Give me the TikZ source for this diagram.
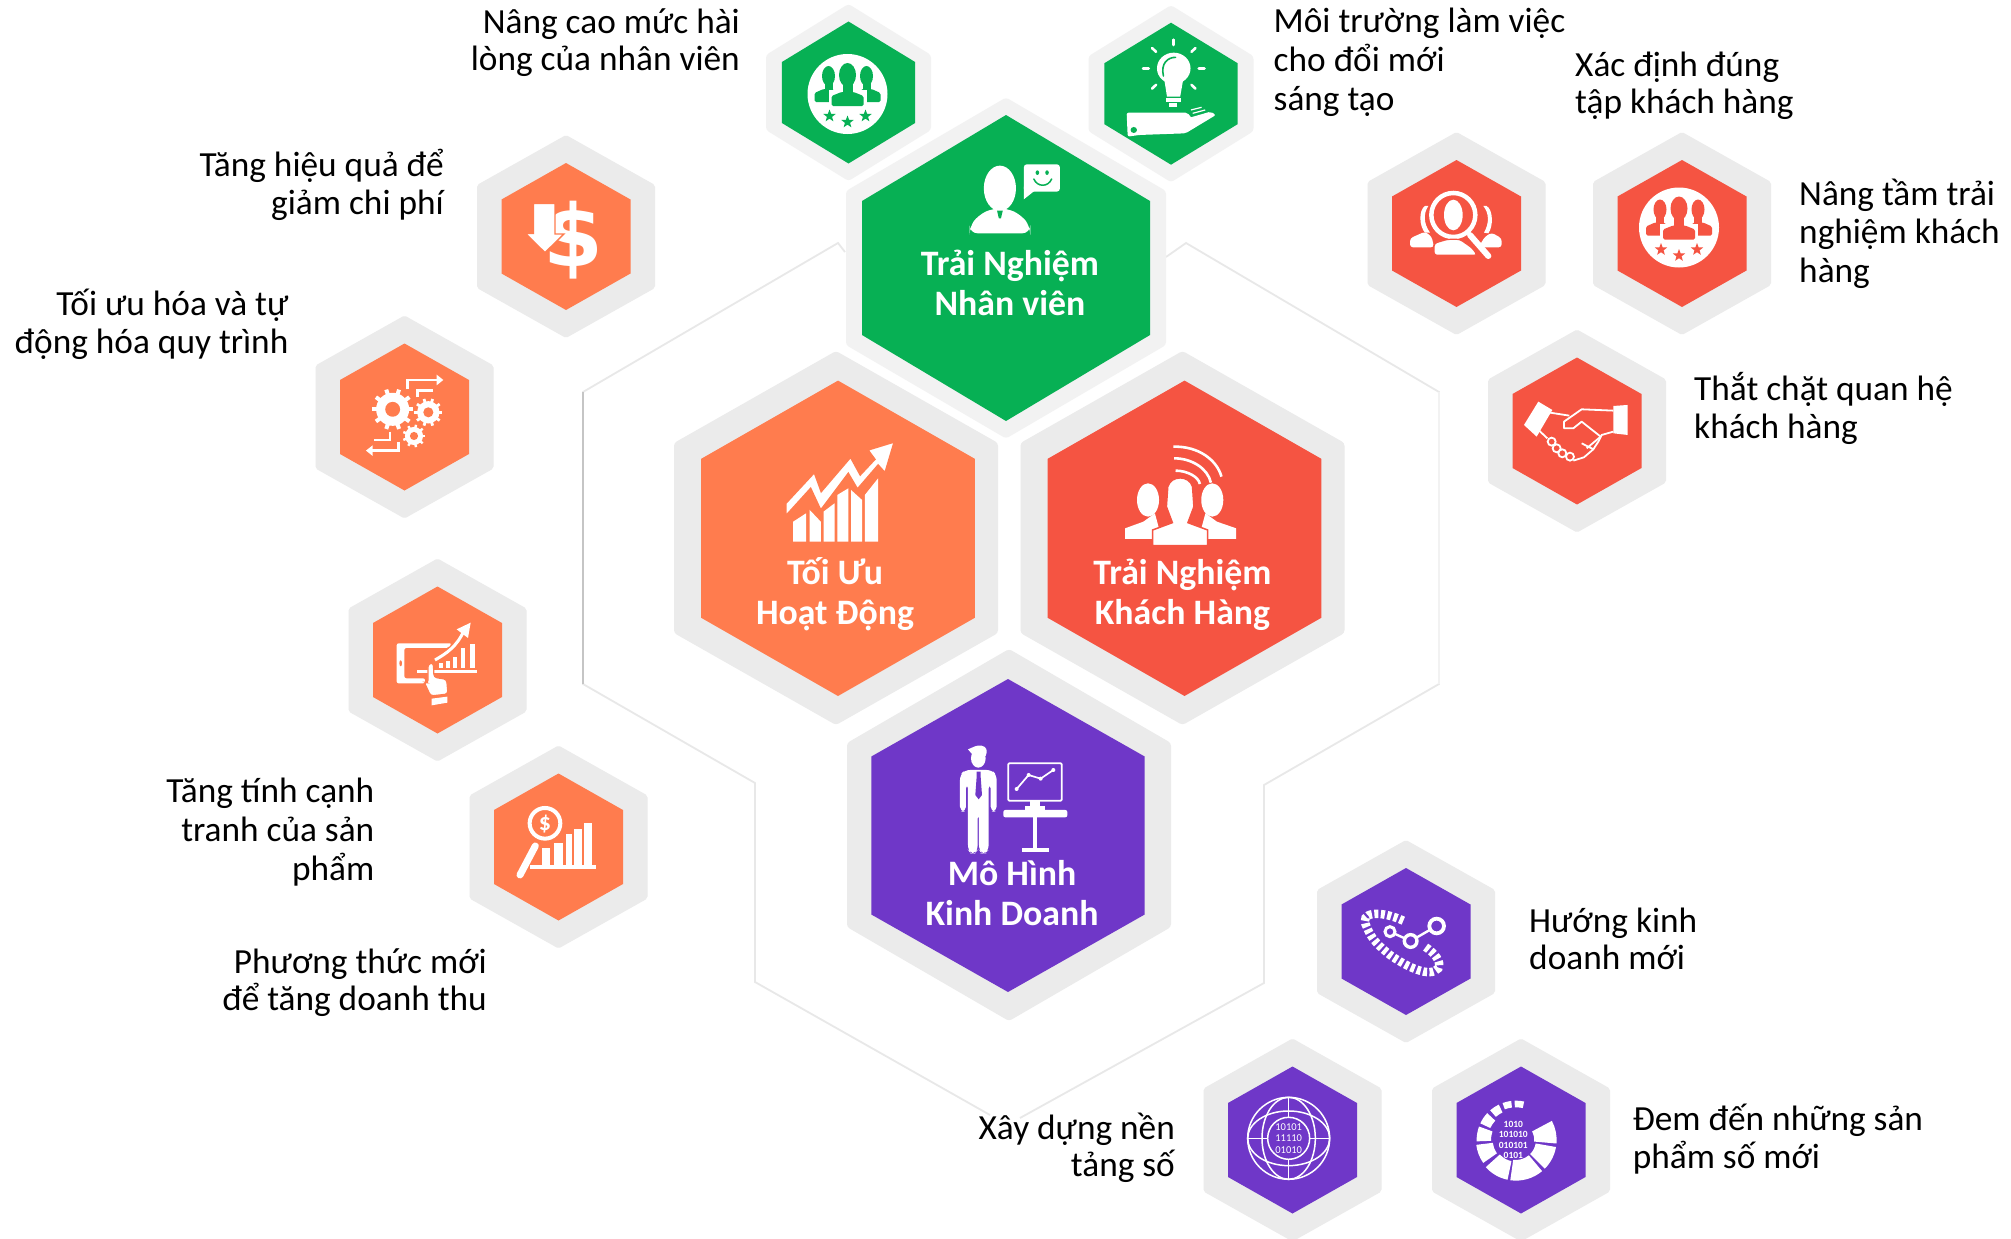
\documentclass[tikz,border=0pt]{standalone}
\usepackage{fontspec}
\setmainfont{Carlito}
\newfontfamily\heavyfont{DejaVu Sans}
\usetikzlibrary{calc}
\definecolor{cgreen}{HTML}{07B054}
\definecolor{corange}{HTML}{FF7C4E}
\definecolor{cred}{HTML}{F55442}
\definecolor{cpurple}{HTML}{6F37C8}
\definecolor{ringa}{HTML}{F2F2F2}
\definecolor{ringb}{HTML}{EBEBEB}
\definecolor{bgline}{HTML}{E8E8E8}
\tikzset{
  lab/.style={font=\fontsize{35.3}{37.5}\selectfont,inner sep=0pt,text=black},
  labth/.style={font=\fontsize{35.3}{38.6}\selectfont},
  labl/.style={lab,anchor=west,align=left},
  labr/.style={lab,anchor=east,align=right},
  ttl/.style={font=\bfseries\fontsize{35.8}{40}\selectfont,inner sep=0pt,text=white,align=center},
  bgl/.style={draw=bgline,line width=1.8pt,line join=miter},
  zone/.style={shift={(750,0)},x=.357pt,y=-.3333pt},
  ztwo/.style={shift={(650,340)},x=.459pt,y=-.3333pt},
  zthree/.style={shift={(840,650)},x=.3333pt,y=-.3333pt},
  zfour/.style={shift={(310,130)},x=.3333pt,y=-.3333pt},
  zfive/.style={shift={(340,550)},x=.3333pt,y=-.3333pt},
  zsix/.style={shift={(1360,120)},x=.3333pt,y=-.3333pt},
  zseven/.style={shift={(1190,830)},x=.3333pt,y=-.3333pt}
}
% hexagon outline: cx cy halfwidth halfheight shoulder style
\newcommand\hexa[6]{\path[#6] (#1,#2-#4) -- (#1+#3,#2-#5) -- (#1+#3,#2+#5) -- (#1,#2+#4) -- (#1-#3,#2+#5) -- (#1-#3,#2-#5) -- cycle;}
% small hexagon with grey ring
\newcommand\smallhex[4]{\coordinate (#1) at (#2,#3);
  \hexa{#2}{#3}{89}{101.5}{51.5}{fill=ringb,rounded corners=2pt}
  \hexa{#2}{#3}{64.5}{73.5}{37}{fill=#4}}
\newcommand\mystar[4]{\fill[#4] (#1,#2) +(-90:#3) -- +(-54:{.42*#3}) -- +(-18:#3) -- +(18:{.42*#3}) -- +(54:#3) -- +(90:{.42*#3}) -- +(126:#3) -- +(162:{.42*#3}) -- +(198:#3) -- +(234:{.42*#3}) -- cycle;}
% three people and stars in a white disc, centred on the disc
\newcommand\peoplestars[3]{\begin{scope}[shift={(#1,#2)}]
  \fill[white] (0,0) circle (40);
  \fill[#3] (-19,-18) ellipse [x radius=6.5,y radius=10];
  \fill[#3] (19,-18) ellipse [x radius=6.5,y radius=10];
  \fill[#3] (-23,-12) rectangle (-15,0);
  \fill[#3] (15,-12) rectangle (23,0);
  \fill[#3,rounded corners=1.5pt] (-33,8) -- (-33,-1) -- (-24,-5) -- (-14,-5) -- (-8,8) -- cycle;
  \fill[#3,rounded corners=1.5pt] (33,8) -- (33,-1) -- (24,-5) -- (14,-5) -- (8,8) -- cycle;
  \fill[white] (-11.5,-34) rectangle (11.5,-2);
  \fill[white] (-19,-4) rectangle (19,15);
  \fill[#3] (0,-19) ellipse [x radius=8.5,y radius=12];
  \fill[#3] (-5,-12) rectangle (5,2);
  \fill[#3,rounded corners=1.5pt] (-16,12) -- (-16,2) -- (-6,-2) -- (6,-2) -- (16,2) -- (16,12) -- cycle;
  \mystar{-18}{22}{6.5}{#3}\mystar{0}{28}{6.5}{#3}\mystar{18}{22}{6.5}{#3}
\end{scope}}
\newcommand\gearicon[6]{\foreach \gi in {1,...,#5}{\draw[white,line width=#6pt] (#1,#2) -- +({\gi*360/#5}:#3);}
  \fill[white] (#1,#2) circle ({.8*#3}); \fill[corange] (#1,#2) circle ({.36*#3});}
\newcommand\segm[4]{\fill[white] (#1:#4) arc[start angle=#1,end angle=#2,radius=#4] -- (#2:#3) arc[start angle=#2,end angle=#1,radius=#3] -- cycle;}
\begin{document}
\begin{tikzpicture}[x=1pt,y=-1pt]
\useasboundingbox (0,0) rectangle (2011,1239);
\fill[white] (0,0) rectangle (2011,1239);
% background outline
\coordinate (la) at (845,252); \coordinate (lb) at (838,243); \coordinate (lc) at (583,392);
\coordinate (ld) at (583,684); \coordinate (le) at (755,783); \coordinate (lf) at (755,982); \coordinate (lg) at (990,1115);
\coordinate (ra) at (1166,257); \coordinate (rb) at (1186,243); \coordinate (rc) at (1439,392);
\coordinate (rd) at (1439,684); \coordinate (re) at (1264,785); \coordinate (rf) at (1264,983); \coordinate (rg) at (1020,1118);
\draw[bgl] (la) -- (lb) -- (lc) -- (ld) -- (le) -- (lf) -- (lg);
\draw[bgl] (ra) -- (rb) -- (rc) -- (rd) -- (re) -- (rf) -- (rg);
\draw[draw=bgline!85!black,line width=2pt] (lc) -- (ld);
\draw[draw=ringa,line width=2.5pt] (rc) -- (rd);
% ---- large hexagons
\hexa{836}{538}{162}{187}{95}{fill=ringb,rounded corners=3pt}
\hexa{838}{538.3}{136.8}{157.7}{79.5}{fill=corange}
\hexa{1182.5}{538}{162}{187}{95}{fill=ringb,rounded corners=3pt}
\hexa{1184.5}{538.3}{136.8}{157.7}{79.5}{fill=cred}
\hexa{1009}{835}{162}{186}{92}{fill=ringb,rounded corners=3pt}
\hexa{1008}{835.5}{136.7}{156.5}{79}{fill=cpurple}
% ---- green small
\coordinate (gone) at (848.5,92.5); \coordinate (gtwo) at (1171,93.7);
\hexa{848.5}{92.5}{82.5}{88.5}{37.5}{fill=ringa,rounded corners=3pt}
\hexa{848.5}{92.5}{66.6}{71}{30.5}{fill=cgreen}
\hexa{1171}{93.7}{82.5}{88.5}{37.5}{fill=ringa,rounded corners=3pt}
\hexa{1171}{93.7}{66.6}{71}{30.5}{fill=cgreen}
% ---- green large
\hexa{1006}{268}{160}{170.5}{77}{fill=ringa,rounded corners=3pt}
\hexa{1006}{268}{144}{153}{67}{fill=cgreen}
% ---- small hexagons
\smallhex{hdollar}{566}{236.5}{corange}
\smallhex{hgears}{404.5}{417}{corange}
\smallhex{htablet}{437.5}{660}{corange}
\smallhex{hmag}{558.5}{847}{corange}
\smallhex{hsearch}{1456.5}{233.5}{cred}
\smallhex{hstars}{1682}{233.5}{cred}
\smallhex{hshake}{1577}{431}{cred}
\smallhex{hroute}{1406}{941.5}{cpurple}
\smallhex{hglobe}{1292.5}{1140}{cpurple}
\smallhex{hdata}{1521}{1140}{cpurple}
% ---- people with stars
\peoplestars{847.5}{94}{cgreen}
\peoplestars{1679}{227.5}{cred}
% ---- bulb and hand
\begin{scope}[zone]
  \foreach \ra in {-90,-135,-45,180,0,135,45}{\draw[white,line width=2.6pt,line cap=round,shift={(1187,205)}] (\ra:70) -- (\ra:86);}
  \fill[white] (1187,205) ellipse [x radius=47,y radius=47];
  \fill[white] (1160,235) -- (1214,235) -- (1205,290) -- (1168,290) -- cycle;
  \fill[white] (1165,294) rectangle (1207,306);
  \fill[white] (1175,310) rectangle (1197,320);
  \draw[cgreen,line width=1.6pt,line cap=round] (1158,228) .. controls (1150,190) and (1170,172) .. (1192,172);
  \fill[white,rounded corners=2pt] (1055,338) -- (1225,338) -- (1240,358) -- (1170,372) -- (1290,335) -- (1305,345) -- (1220,400) -- (1090,405) -- (1058,410) -- cycle;
  \fill[cgreen] (1075,390) circle (9);
  \draw[white,line width=1.2pt] (1235,330) -- (1265,322) (1240,340) -- (1275,330);
  % person and speech bubble
  \fill[white] (700,565) ellipse [x radius=45,y radius=68];
  \fill[white,rounded corners=8pt] (615,700) -- (615,680) -- (640,645) -- (680,625) -- (720,625) -- (760,645) -- (785,680) -- (785,700) -- cycle;
  \fill[cgreen] (692,632) -- (708,632) -- (703,655) -- (697,655) -- cycle;
  \fill[white,rounded corners=3pt] (767,493) rectangle (868,575);
  \fill[white] (767,560) -- (767,598) -- (800,570) -- cycle;
  \fill[cgreen] (805,518) ellipse [x radius=5,y radius=7];
  \fill[cgreen] (832,518) ellipse [x radius=5,y radius=7];
  \draw[cgreen,line width=1.5pt,line cap=round] (795,537) .. controls (805,562) and (835,562) .. (845,537);
\end{scope}
% ---- chart and arrow
\begin{scope}[ztwo]
  \fill[white] (312,605) -- (312,545) -- (340,520) -- (340,605) -- cycle;
  \fill[white] (348,605) -- (348,510) -- (372,545) -- (372,605) -- cycle;
  \fill[white] (378,605) -- (378,515) -- (402,490) -- (402,605) -- cycle;
  \fill[white] (408,605) -- (408,465) -- (432,445) -- (432,605) -- cycle;
  \fill[white] (438,605) -- (438,450) -- (462,480) -- (462,605) -- cycle;
  \fill[white] (468,605) -- (468,465) -- (497,415) -- (497,605) -- cycle;
  \path[fill=white,draw=corange,line width=1.5pt,line join=miter] (296,490) -- (358,398) -- (373,455) -- (437,352) -- (458,405) -- (490,358) -- (475,330) -- (532,306) -- (512,398) -- (497,375) -- (452,447) -- (432,400) -- (372,510) -- (350,445) -- (296,527) -- cycle;
  % people and signal
  \fill[white] (1085,480) ellipse [x radius=24,y radius=50];
  \fill[white] (1225,480) ellipse [x radius=24,y radius=50];
  \fill[white] (1035,597) -- (1035,565) -- (1075,545) -- (1100,520) -- (1115,597) -- cycle;
  \fill[white] (1277,597) -- (1277,565) -- (1235,545) -- (1210,520) -- (1195,597) -- cycle;
  \fill[white,draw=cred,line width=1.5pt] (1095,617) -- (1095,570) -- (1138,548) -- (1125,500) -- (1128,440) .. controls (1135,405) and (1175,405) .. (1182,440) -- (1185,500) -- (1172,548) -- (1215,570) -- (1215,617) -- cycle;
  \draw[white,line width=2.6pt] (1140,320) .. controls (1195,318) and (1235,360) .. (1245,410);
  \draw[white,line width=2.6pt] (1142,355) .. controls (1180,355) and (1215,385) .. (1222,428);
  \draw[white,line width=2.6pt] (1145,392) .. controls (1170,392) and (1195,410) .. (1198,432);
\end{scope}
% ---- man and board
\begin{scope}[zthree]
  \fill[white] (415,325) ellipse [x radius=22,y radius=28];
  \fill[white] (384,298) .. controls (400,292) and (410,284) .. (425,287) .. controls (440,290) and (444,302) .. (437,318) -- (396,312) -- cycle;
  \fill[white,rounded corners=5pt] (360,485) -- (360,375) -- (375,360) -- (455,360) -- (470,375) -- (470,485) -- (452,485) -- (452,400) -- (446,400) -- (446,480) -- (446,600) -- (435,610) -- (425,610) -- (417,600) -- (417,490) -- (413,490) -- (413,600) -- (405,610) -- (392,610) -- (384,600) -- (384,400) -- (378,400) -- (378,485) -- cycle;
  \fill[cpurple] (410,365) -- (422,365) -- (422,380) -- (426,435) -- (416,448) -- (406,435) -- (410,380) -- cycle;
  \draw[white,line width=1.7pt,rounded corners=1pt] (505,340) rectangle (665,452);
  \draw[white,line width=1.7pt] (530,417) -- (566,375) -- (602,386) -- (640,360);
  \fill[white] (530,417) circle (6) (566,375) circle (6) (602,386) circle (6) (640,360) circle (6);
  \fill[white] (570,452) rectangle (600,470);
  \fill[white] (555,468) rectangle (615,482);
  \fill[white,rounded corners=2pt] (490,480) rectangle (682,502);
  \fill[white] (578,502) rectangle (592,597);
  \fill[white] (545,595) rectangle (628,606);
\end{scope}
% ---- dollar and arrow; gears
\begin{scope}[zfour]
  \node[font=\heavyfont\bfseries\fontsize{86}{86}\selectfont,text=white,inner sep=0pt] (dollarsign) at (790,330) {\$};
  \path[fill=white,draw=corange,line width=1.4pt,line join=miter] (670,220) -- (735,220) -- (735,312) -- (762,312) -- (705,368) -- (646,310) -- (670,310) -- cycle;
  \gearicon{248}{838}{62}{22}{10}{4}
  \gearicon{355}{847}{42}{15}{10}{2.8}
  \gearicon{312}{918}{34}{12}{9}{2.4}
  \draw[white,line width=2.5pt] (292,778) -- (292,750) -- (382,750);
  \fill[white] (380,734) -- (400,750) -- (380,766) -- cycle;
  \draw[white,line width=2.5pt] (322,802) -- (322,782) -- (370,782);
  \draw[white,line width=2.5pt] (265,935) -- (265,962) -- (186,962);
  \fill[white] (188,946) -- (168,962) -- (188,978) -- cycle;
  \draw[white,line width=2.5pt] (240,905) -- (240,930) -- (192,930);
\end{scope}
% ---- tablet; magnifier
\begin{scope}[zfive]
  \fill[white,rounded corners=2pt] (170,400) -- (170,280) -- (335,280) -- (325,294) -- (193,294) -- (193,385) -- (255,385) -- (255,400) -- cycle;
  \fill[corange] (182,340) ellipse [x radius=4,y radius=9];
  \fill[white] (230,360) rectangle (410,368);
  \fill[white] (298,340) rectangle (310,355);
  \fill[white] (318,332) rectangle (330,355);
  \fill[white] (338,320) rectangle (350,355);
  \fill[white] (364,295) rectangle (376,355);
  \fill[white] (390,283) rectangle (404,355);
  \draw[white,line width=3pt] (285,330) .. controls (320,310) and (350,290) .. (372,242);
  \fill[white] (350,238) -- (392,218) -- (384,264) -- cycle;
  \path[fill=white,draw=corange,line width=1.2pt,rounded corners=3pt] (264,400) -- (264,342) -- (280,338) -- (282,382) -- (320,388) -- (324,432) -- (272,438) -- (252,395) -- cycle;
  \fill[white] (275,446) -- (322,440) -- (322,458) -- (275,466) -- cycle;
  \draw[white,line width=4pt] (615,820) circle (46);
  \node[font=\bfseries\fontsize{24}{24}\selectfont,text=white,inner sep=0pt] (magdollar) at (615,822) {\$};
  \draw[white,line width=7pt,line cap=round] (586,888) -- (540,975);
  \fill[white] (605,895) rectangle (630,945);
  \fill[white] (643,880) rectangle (668,945);
  \fill[white] (678,853) rectangle (697,945);
  \fill[white] (733,820) rectangle (755,945);
  \fill[white] (703,838) rectangle (725,945);
  \fill[white] (570,945) rectangle (768,958);
\end{scope}
% ---- search people; handshake
\begin{scope}[zsix]
  \fill[white,rounded corners=3pt] (150,382) -- (150,355) -- (195,335) -- (215,350) -- (222,382) -- cycle;
  \fill[white,rounded corners=3pt] (425,382) -- (425,355) -- (395,338) -- (375,350) -- (355,382) -- cycle;
  \fill[white] (195,258) .. controls (175,270) and (178,320) .. (195,338) -- (210,338) .. controls (190,310) and (190,280) .. (205,258) -- cycle;
  \fill[white] (380,258) .. controls (400,270) and (400,320) .. (385,340) -- (372,338) .. controls (388,310) and (388,280) .. (370,258) -- cycle;
  \fill[cred] (280,285) circle (76);
  \draw[white,line width=4.5pt] (280,285) circle (66);
  \fill[white] (280,285) ellipse [x radius=28,y radius=46];
  \path[fill=white,draw=cred,line width=1.2pt,rounded corners=3pt] (222,406) -- (222,370) -- (262,358) -- (300,358) -- (338,385) -- (352,406) -- cycle;
  \draw[white,line width=6pt,line cap=round] (330,345) -- (385,408);
  % handshake
  \fill[white] (535,845) -- (577,870) -- (530,950) -- (492,915) -- cycle;
  \fill[white] (760,858) -- (803,855) -- (803,945) -- (760,940) -- cycle;
  \draw[white,line width=1.8pt,line join=round] (570,878) -- (628,887);
  \draw[white,line width=1.8pt,line join=round] (760,872) -- (665,868) -- (612,905) -- (612,925) -- (640,925) -- (665,905) -- (722,950);
  \draw[white,line width=1.8pt,line join=round] (760,935) -- (725,945) -- (715,965) -- (700,988) -- (672,1012) -- (640,1022);
  \draw[white,line width=1.8pt] (530,925) -- (562,955);
  \draw[white,line width=1.8pt] (722,950) -- (680,985) (700,988) -- (665,970);
  \foreach \fx/\fy in {575/965,590/985,607/1000,630/1010}{\filldraw[fill=cred,draw=white,line width=1.8pt] (\fx,\fy) circle (12);}
\end{scope}
% ---- route; globe; data
\begin{scope}[zseven]
  \draw[white,line width=8.5pt,dash pattern=on 4pt off 2.5pt] (640,272) .. controls (570,240) and (505,245) .. (530,290) .. controls (545,330) and (570,350) .. (600,375) .. controls (650,410) and (720,445) .. (745,415) .. controls (755,395) and (735,370) .. (705,350);
  \draw[white,line width=2.4pt] (600,305) -- (662,333) -- (740,288);
  \filldraw[fill=cpurple,draw=white,line width=3pt] (600,305) circle (15);
  \filldraw[fill=cpurple,draw=white,line width=3.4pt] (662,333) circle (19);
  \filldraw[fill=cpurple,draw=white,line width=3.8pt] (740,288) circle (22);
  % globe
  \begin{scope}[white,line width=1.5pt]
    \draw (296,925) circle (123);
    \draw (296,925) ellipse [x radius=80,y radius=123];
    \draw (296,925) ellipse [x radius=123,y radius=82];
    \draw[fill=cpurple] (296,925) circle (63);
    \draw (296,802) -- (296,862) (296,988) -- (296,1048) (173,925) -- (233,925) (359,925) -- (419,925);
  \end{scope}
  \node[font=\fontsize{10.5}{11.5}\selectfont,text=white,inner sep=0pt,align=center] (bits) at (296,925) {10101\\11110\\01010};
  % data ring
  \begin{scope}[shift={(978,930)},x=.3333pt,y=.3333pt]
    \segm{78}{92}{98}{118}\segm{97}{110}{98}{118}\segm{116}{131}{92}{118}\segm{137}{155}{85}{118}
    \segm{160}{182}{75}{118}\segm{187}{215}{70}{120}\segm{222}{258}{65}{122}\segm{262}{310}{60}{122}
    \segm{315}{350}{60}{122}\segm{355}{388}{55}{122}
    \node[font=\bfseries\fontsize{9.5}{10.5}\selectfont,text=white,inner sep=0pt,align=center] (databits) at (-8,0) {1010\\101010\\010101\\0101};
  \end{scope}
\end{scope}
% ---- titles
\node[ttl] (tgreen) at (1010,283) {Trải Nghiệm\\Nhân viên};
\node[ttl] (torange) at (835,594.5) {Tối Ưu\\Hoạt Động};
\node[ttl] (tred) at (1182.5,594.5) {Trải Nghiệm\\Khách Hàng};
\node[ttl] (tpurple) at (1012,892.6) {Mô Hình\\Kinh Doanh};
% ---- labels
\node[labr] (la1) at (740,42.4) {Nâng cao mức hài\\lòng của nhân viên};
\node[labl,labth] (la2) at (1273.5,62.3) {Môi trường làm việc\\cho đổi mới\\sáng tạo};
\node[labl] (la3) at (1575,86) {Xác định đúng\\tập khách hàng};
\node[labl,labth] (la4) at (1799,233.5) {Nâng tầm trải\\nghiệm khách\\hàng};
\node[labl] (la5) at (1694,408.5) {Thắt chặt quan hệ\\khách hàng};
\node[labr] (la6) at (444,184.8) {Tăng hiệu quả để\\giảm chi phí};
\node[labr] (la7) at (288.6,324.5) {Tối ưu hóa và tự\\động hóa quy trình};
\node[labr,labth] (la8) at (374.5,832) {Tăng tính cạnh\\tranh của sản\\phẩm};
\node[labr] (la9) at (487,982.5) {Phương thức mới\\để tăng doanh thu};
\node[labl] (la10) at (1529,939) {Hướng kinh\\doanh mới};
\node[labr] (la11) at (1175,1148) {Xây dựng nền\\tảng số};
\node[labl] (la12) at (1632.6,1139) {Đem đến những sản\\phẩm số mới};
\end{tikzpicture}
\end{document}
